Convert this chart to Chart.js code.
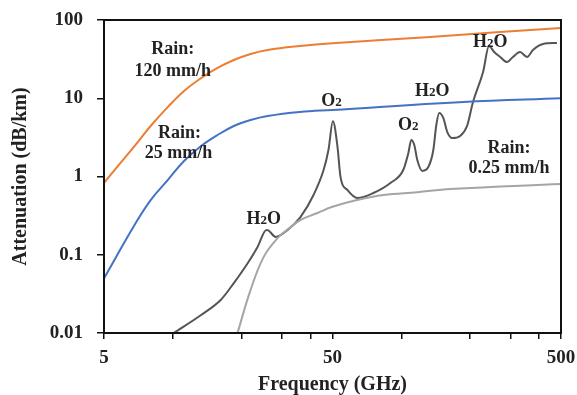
<!DOCTYPE html>
<html>
<head>
<meta charset="utf-8">
<script src="https://cdn.jsdelivr.net/npm/chart.js@4/dist/chart.umd.min.js"></script>
<style>
  body { margin: 0; background: #fff; }
  canvas { display: block; }
</style>
</head>
<body>
<canvas id="grafico" width="577" height="395"></canvas>
<script>
// values (GHz, dB/km)
const rain120Freq = [5, 6.8, 8, 9.5, 11.2, 13.3, 15.7, 18.5, 21.9, 26, 36, 50, 134, 270, 500];
const rain120Atten = [0.83, 2.45, 4.42, 7.7, 12.4, 18.1, 24.4, 30.8, 36.8, 41.4, 46.5, 50.5, 60.7, 70, 79];

const rain25Freq = [5, 6.8, 8, 9.5, 11.2, 13.3, 15.7, 18.5, 21.9, 26, 36, 50, 187, 500];
const rain25Atten = [0.05, 0.24, 0.5, 0.9, 1.58, 2.45, 3.39, 4.42, 5.27, 5.93, 6.67, 7.08, 8.96, 10];

const rain025Freq = [19.2, 21.9, 25, 28.8, 32.8, 36.2, 43, 50, 64, 83.5, 117.5, 164, 500];
const rain025Atten = [0.01, 0.0355, 0.094, 0.164, 0.226, 0.278, 0.342, 0.41, 0.5, 0.58, 0.63, 0.69, 0.8];

const gasFreq = [10.1, 13.3, 16.2, 18.5, 21.3, 23.5, 25.7, 26.2, 28.2, 31.8, 36.2, 41.3, 45.7, 48, 50.2,
  52.6, 54.2, 58.2, 64.3, 75.5, 89.6, 102, 107.4, 110.6, 114, 117.5, 123.6, 131.3, 138.1, 142.3, 146.6,
  152.7, 159, 167, 181, 194, 206, 228, 242, 255, 271, 290, 308, 331, 355, 377, 417, 480];
const gasAtten = [0.01, 0.017, 0.0264, 0.0435, 0.0785, 0.126, 0.207, 0.205, 0.169, 0.207, 0.303, 0.58, 1.21, 2.18, 5.1,
  2.38, 0.99, 0.67, 0.53, 0.615, 0.826, 1.21, 2.0, 2.93, 2.53, 1.63, 1.18, 1.32, 2.18, 4.55, 6.48,
  5.6, 3.7, 3.1, 3.3, 4.42, 8.96, 21.6, 46.5, 39, 33.7, 29, 33.7, 39, 33.7, 41.4, 49.4, 50.8];

const xTickValues = [5, 10, 20, 30, 40, 50, 100, 200, 300, 400, 500];
const xTickLabels = ["5", "", "", "", "", "50", "", "", "", "", "500"];
const yTickValues = [0.01, 0.1, 1, 10, 100];
const yTickLabels = ["0.01", "0.1", "1", "10", "100"];

// text notes placed at (GHz, dB/km); "_" marks a small digit
const notes = [
  { text: "Rain:", x: 10, y: 43.9 },
  { text: "120 mm/h", x: 10, y: 23 },
  { text: "Rain:", x: 10.7, y: 3.7 },
  { text: "25 mm/h", x: 10.6, y: 2.06 },
  { text: "Rain:", x: 296, y: 2.38 },
  { text: "0.25 mm/h", x: 296, y: 1.32 },
  { text: "O_2", x: 49.5, y: 9.5 },
  { text: "O_2", x: 107.4, y: 4.69 },
  { text: "H_2O", x: 25, y: 0.295 },
  { text: "H_2O", x: 136.6, y: 12.7 },
  { text: "H_2O", x: 245, y: 53.9 }
];

const serif = "'Times New Roman', 'Liberation Serif', serif";

function puntos(xs, ys) {
  return xs.map((x, i) => ({ x: x, y: ys[i] }));
}

function serie(xs, ys, color, suave) {
  const d = {
    data: puntos(xs, ys),
    borderColor: color,
    borderWidth: 2,
    pointRadius: 0,
    fill: false
  };
  if (suave) d.tension = 0.4;
  else d.cubicInterpolationMode = "monotone";
  return d;
}

// draws text with "_2" as a smaller 2 on the same baseline
function nota(c, text, x, y) {
  const partes = [];
  text.split("_").forEach((p, i) => {
    if (i === 0) partes.push({ t: p, f: "bold 18px " + serif });
    else {
      partes.push({ t: p[0], f: "bold 13px " + serif });
      if (p.length > 1) partes.push({ t: p.slice(1), f: "bold 18px " + serif });
    }
  });
  let total = 0;
  partes.forEach(p => { c.font = p.f; p.w = c.measureText(p.t).width; total += p.w; });
  let px = x - total / 2;
  partes.forEach(p => {
    c.font = p.f;
    c.fillText(p.t, px, y + 6);
    px += p.w;
  });
}

const notasPlugin = {
  id: "notas",
  afterDatasetsDraw(chart) {
    const c = chart.ctx;
    const xs = chart.scales.x, ys = chart.scales.y;
    c.save();
    c.fillStyle = "#222";
    c.textAlign = "left";
    c.textBaseline = "alphabetic";
    notes.forEach(n => nota(c, n.text, xs.getPixelForValue(n.x), ys.getPixelForValue(n.y)));
    c.restore();
  },
  afterDraw(chart) {
    const a = chart.chartArea;
    const c = chart.ctx;
    c.save();
    c.strokeStyle = "#111";
    c.lineWidth = 2;
    c.strokeRect(a.left, a.top, a.right - a.left, a.bottom - a.top);
    c.restore();
  }
};

var ctx = document.getElementById("grafico").getContext("2d");

const myChart = new Chart(ctx, {
  type: "line",
  data: {
    datasets: [
      serie(rain120Freq, rain120Atten, "#ED7D31", true),
      serie(rain25Freq, rain25Atten, "#4472C4", true),
      serie(rain025Freq, rain025Atten, "#A5A5A5", true),
      serie(gasFreq, gasAtten, "#555555", false)
    ]
  },
  options: {
    responsive: false,
    animation: false,
    layout: { padding: { top: 20, right: 16, left: 0, bottom: 0 } },
    plugins: {
      legend: { display: false },
      tooltip: { enabled: false }
    },
    scales: {
      x: {
        type: "logarithmic",
        min: 5,
        max: 500,
        afterBuildTicks: scale => { scale.ticks = xTickValues.map(v => ({ value: v })); },
        afterFit: scale => {
          scale.height = 62;
          scale.paddingLeft = 0;
          scale.paddingRight = 0;
        },
        grid: { drawOnChartArea: false, drawTicks: true, tickLength: 6, color: "#111", lineWidth: 1.5 },
        border: { color: "#111", width: 2 },
        ticks: {
          autoSkip: false,
          maxRotation: 0,
          padding: 8,
          color: "#222",
          font: { family: serif, size: 19, weight: "bold" },
          callback: (v, i) => xTickLabels[i]
        },
        title: {
          display: true,
          text: "Frequency (GHz)",
          color: "#222",
          padding: { top: 0, bottom: -2 },
          font: { family: serif, size: 20, weight: "bold" }
        }
      },
      y: {
        type: "logarithmic",
        min: 0.01,
        max: 100,
        afterBuildTicks: scale => { scale.ticks = yTickValues.map(v => ({ value: v })); },
        afterFit: scale => {
          scale.width = 104;
          scale.paddingTop = 0;
          scale.paddingBottom = 0;
        },
        grid: { drawOnChartArea: false, drawTicks: true, tickLength: 7, color: "#111", lineWidth: 1.5 },
        border: { color: "#111", width: 2 },
        ticks: {
          padding: 14,
          color: "#222",
          font: { family: serif, size: 19, weight: "bold" },
          callback: (v, i) => yTickLabels[i]
        },
        title: {
          display: true,
          text: "Attenuation (dB/km)",
          color: "#222",
          padding: { top: 9, bottom: 0 },
          font: { family: serif, size: 20, weight: "bold" }
        }
      }
    }
  },
  plugins: [notasPlugin]
});
</script>
</body>
</html>
